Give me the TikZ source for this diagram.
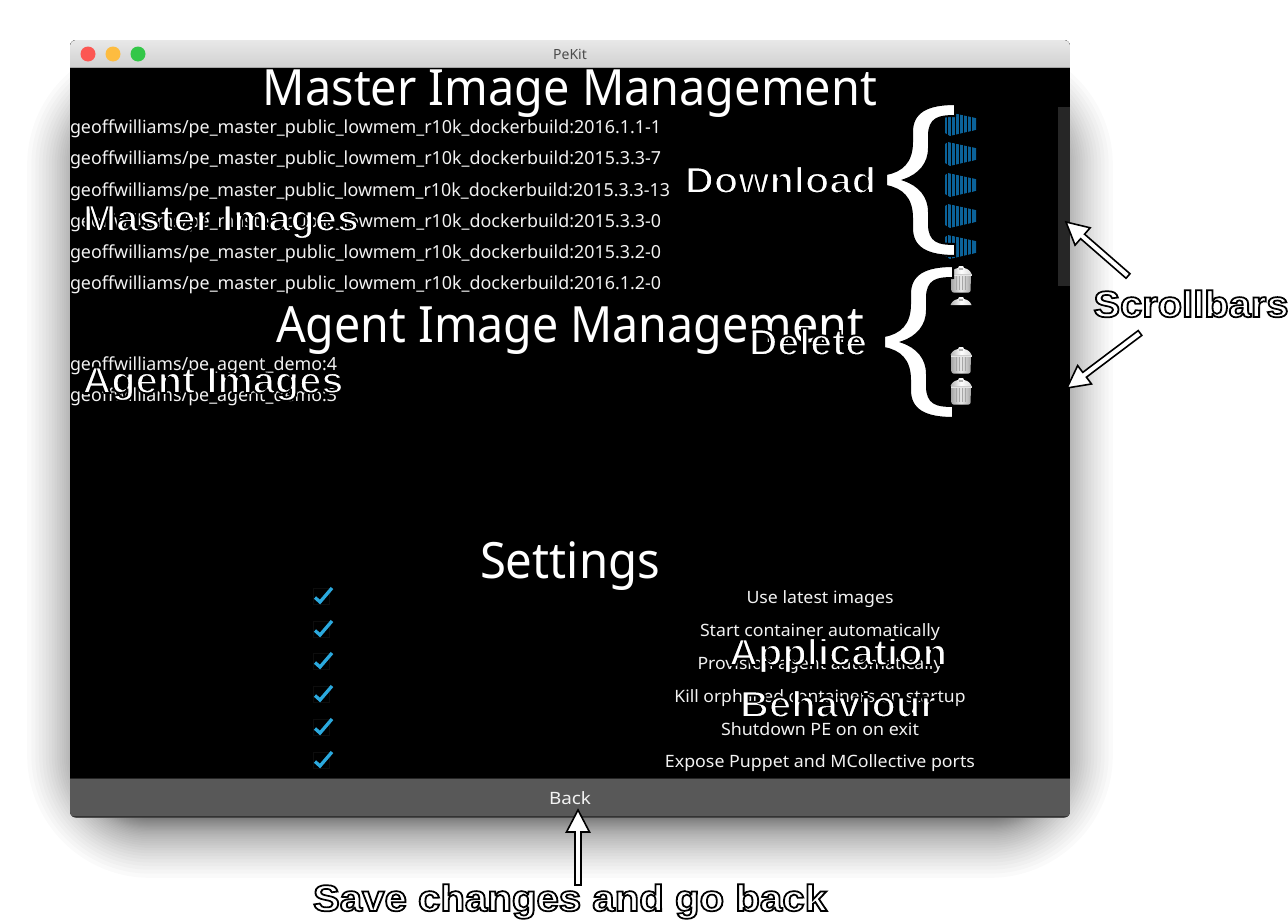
\documentclass[tikz,border=0pt]{standalone}
\usepackage{fontspec}
\usepackage{graphicx}
\usetikzlibrary{calc}
\setmainfont{Noto Sans}
\newfontfamily\outlinefam[FakeBold=4.6,UprightFont={* Bold}]{Liberation Sans}
\definecolor{appfg}{HTML}{F2F2F2}
\definecolor{barbg}{HTML}{585858}
\definecolor{chk}{HTML}{2BA9DE}
\definecolor{contblue}{HTML}{0B6299}
\newcommand\fitw[2]{\resizebox{#1pt}{\height}{#2}}
\newcommand\ol[2]{\resizebox{#1pt}{\height}{\color{white}\special{pdf:code 0 G}#2}}
\tikzset{
  x=1pt,y=-1pt,
  txt/.style={inner sep=0,outer sep=0,text=white},
  head/.style={txt,anchor=base,font=\fontsize{50}{60}\selectfont},
  img/.style={txt,anchor=base west,font=\fontsize{18}{22}\selectfont,text=appfg},
  opt/.style={txt,anchor=base,font=\fontsize{17}{21}\selectfont,text=appfg},
  lab/.style={inner sep=0,outer sep=0,anchor=base,font=\outlinefam\fontsize{37}{44}\selectfont},
  bracebody/.style={fill=white,draw=black,line width=2pt,line join=miter},
  arrowbody/.style={fill=white,draw=black,line width=1.6pt,line join=miter},
  shadowlayer/.style={fill=black,opacity=0.018},
  dot/.style={circle,inner sep=0,minimum size=15pt,line width=.4pt},
}
\newcommand\bracepath[4]{% #1 name, #2 tip x, #3 centre y, #4 half height
  \begin{scope}[shift={(#2,#3)},yscale=#4/75]
    \path[bracebody] (68,-76) -- (68,-64) .. controls (52,-64) and (42,-62) .. (42,-44)
      -- (42,-32) .. controls (42,-16) and (32,-5) .. (17,0)
      .. controls (32,5) and (42,16) .. (42,32) -- (42,44)
      .. controls (42,62) and (52,64) .. (68,64) -- (68,76)
      .. controls (40,76) and (25,68) .. (25,48) -- (25,38)
      .. controls (25,18) and (15,9) .. (-1,6) -- (-1,-6)
      .. controls (15,-9) and (25,-18) .. (25,-38) -- (25,-48)
      .. controls (25,-68) and (40,-76) .. (68,-76) -- cycle;
  \end{scope}}
\newcommand\conticon[1]{%
  \begin{scope}[shift={(945,#1)}]
    \fill[contblue] (0,-10) -- (3,-12) -- (31,-6) -- (31,6) -- (5,12) -- (0,9) -- cycle;
    \foreach \s in {2.5,6.5,10.5,14.5,18.5,22.5,26.5}
      \draw[black,line width=.8pt] (\s,-12) -- (\s,12);
    \draw[black,line width=.8pt] (0,-12.7) -- (3,-12.7) -- (31,-6.7);
    \draw[black,line width=.8pt] (0,12.7) -- (5,12.7) -- (31,6.7);
  \end{scope}}
\newcommand\trashlid[2]{%
  \begin{scope}[shift={(#1,#2)}]
    \fill[left color=gray!60,right color=gray!30,middle color=white] (-10.5,8) .. controls (-9,3.5) and (-5,2.5) .. (-3,2) -- (-2,0) -- (2,0) -- (3,2) .. controls (5,2.5) and (9,3.5) .. (10.5,8) -- cycle;
    \fill[gray!60] (-1.8,2) rectangle (1.8,3.6);
  \end{scope}}
\newcommand\trashicon[2]{%
  \begin{scope}[shift={(#1,#2)}]
    \fill[left color=gray!70,right color=gray!70,middle color=gray!18,rounded corners=2pt] (-10,8) -- (-9.5,26.5) -- (9.5,26.5) -- (10,8) -- cycle;
    \foreach \s in {-5,-2,1,4}
      \draw[gray!70,line width=.4pt] (\s,10) -- (\s,24);
    \fill[gray!20] (-10.5,8) rectangle (10.5,9.5);
  \end{scope}
  \trashlid{#1}{#2}}
\newcommand\checkicon[2]{%
  \draw[black!95!white,line width=.5pt] (313,#2-7) rectangle (329,#2+9);
  \draw[chk,line width=3.3pt] (315,#2+2.5) -- (320,#2+7) -- (332,#2-7);}
\newcommand\blockarrow[2]{%
  \coordinate (hb) at ($(#2)!22pt!(#1)$);
  \path[arrowbody] ($(#1)!3pt!90:(#2)$) -- ($(hb)!3pt!90:(#2)$) -- ($(hb)!11.5pt!90:(#2)$) -- (#2)
    -- ($(hb)!11.5pt!-90:(#2)$) -- ($(hb)!3pt!-90:(#2)$) -- ($(#1)!3pt!-90:(#2)$) -- cycle;}
\begin{document}
\begin{tikzpicture}
\useasboundingbox (0,0) rectangle (1288,921);
\fill[white] (0,0) rectangle (1288,921);
% shadow
\foreach \i in {1,...,60}{
  \pgfmathsetmacro\xx{(2*\i-1)/60-1}
  \pgfmathsetmacro\dd{60*(0.4*\xx+0.6*\xx*\xx*\xx)}
  \pgfmathsetmacro\rr{max(\dd+65,1)}
  \fill[shadowlayer,rounded corners=\rr pt] (85-\dd,100-\dd) rectangle (1055+\dd,820+\dd);
}
% window
\begin{scope}
  \clip[rounded corners=6pt] (70,40) rectangle (1070,817.5);
  \fill[black] (70,40) rectangle (1070,818);
  \fill[top color=black!9,bottom color=black!18] (70,40) rectangle (1070,67);
  \draw[black!35,line width=.8pt] (70,67) -- (1070,67);
  \fill[barbg] (70,778) rectangle (1070,818);
  \draw[black!80,line width=1.5pt] (70,816.5) -- (1070,816.5);
  \draw[black!85,line width=.8pt] (70,778.3) -- (1070,778.3);
  \fill[black!85] (1058,107) rectangle (1070,286);
\end{scope}
\node[dot,fill={rgb,255:red,252;green,87;blue,83}] (close) at (88,54) {};
\node[dot,fill={rgb,255:red,253;green,188;blue,64}] (min) at (113,54) {};
\node[dot,fill={rgb,255:red,51;green,199;blue,72}] (max) at (138,54) {};
\node[txt,text=black!70,anchor=base,font=\fontsize{14}{17}\selectfont] (title) at (570,59) {PeKit};
% headings
\node[head] (h1) at (570,105) {\fitw{614}{Master Image Management}};
\node[head] (h2) at (570,342) {\fitw{588}{Agent Image Management}};
\node[head] (h3) at (570,578) {\fitw{180}{Settings}};
% lists
\node[img] (m1) at (70,133) {\fitw{591}{geoffwilliams/pe\_master\_public\_lowmem\_r10k\_dockerbuild:2016.1.1-1}};
\node[img] (m2) at (70,164) {\fitw{591}{geoffwilliams/pe\_master\_public\_lowmem\_r10k\_dockerbuild:2015.3.3-7}};
\node[img] (m3) at (70,196) {\fitw{600}{geoffwilliams/pe\_master\_public\_lowmem\_r10k\_dockerbuild:2015.3.3-13}};
\node[img] (m4) at (70,227) {\fitw{591}{geoffwilliams/pe\_master\_public\_lowmem\_r10k\_dockerbuild:2015.3.3-0}};
\node[img] (m5) at (70,258) {\fitw{591}{geoffwilliams/pe\_master\_public\_lowmem\_r10k\_dockerbuild:2015.3.2-0}};
\node[img] (m6) at (70,289) {\fitw{591}{geoffwilliams/pe\_master\_public\_lowmem\_r10k\_dockerbuild:2016.1.2-0}};
\node[img] (a1) at (70,370) {\fitw{267}{geoffwilliams/pe\_agent\_demo:4}};
\node[img] (a2) at (70,401) {\fitw{267}{geoffwilliams/pe\_agent\_demo:3}};
% options
\node[opt] (o1) at (820,603) {\fitw{147}{Use latest images}};
\node[opt] (o2) at (820,636) {\fitw{240}{Start container automatically}};
\node[opt] (o3) at (820,669) {\fitw{245}{Provision agent automatically}};
\node[opt] (o4) at (820,702) {\fitw{291}{Kill orphaned containers on startup}};
\node[opt] (o5) at (820,735) {\fitw{198}{Shutdown PE on on exit}};
\node[opt] (o6) at (820,767) {\fitw{310}{Expose Puppet and MCollective ports}};
\foreach \cy in {595,628,660,693,726,759} {\checkicon{0}{\cy}}
\node[opt] (back) at (570,804) {\fitw{42}{Back}};
% icons
\foreach \cy in {124,154,185,216,247} {\conticon{\cy}}
\trashicon{961}{266}
\trashlid{961}{297}
\trashicon{961}{347}
\trashicon{961}{378}
% braces
\bracepath{b1}{887}{180}{75}
\bracepath{b2}{885}{342}{75}
% overlay labels
\node[lab] (lmi) at (221,231) {\ol{276}{Master Images}};
\node[lab] (lai) at (213,393) {\ol{261}{Agent Images}};
\node[lab] (ldl) at (780.5,193) {\ol{191}{Download}};
\node[lab] (ldel) at (808,355) {\ol{118}{Delete}};
\node[lab] (lapp) at (838,665) {\ol{218}{Application}};
\node[lab] (lbeh) at (838,717) {\ol{196}{Behaviour}};
% arrows
\coordinate (s1a) at (1128,276);
\coordinate (s1b) at (1066,222);
\coordinate (s2a) at (1140,333);
\coordinate (s2b) at (1067,388);
\coordinate (b1a) at (578,885);
\coordinate (b1b) at (578,810);
\blockarrow{s1a}{s1b}
\blockarrow{s2a}{s2b}
\blockarrow{b1a}{b1b}
\node[lab] (lsb) at (1191,317) {\ol{195}{Scrollbars}};
\node[lab] (lsv) at (570,911) {\ol{514}{Save changes and go back}};
\end{tikzpicture}
\end{document}
